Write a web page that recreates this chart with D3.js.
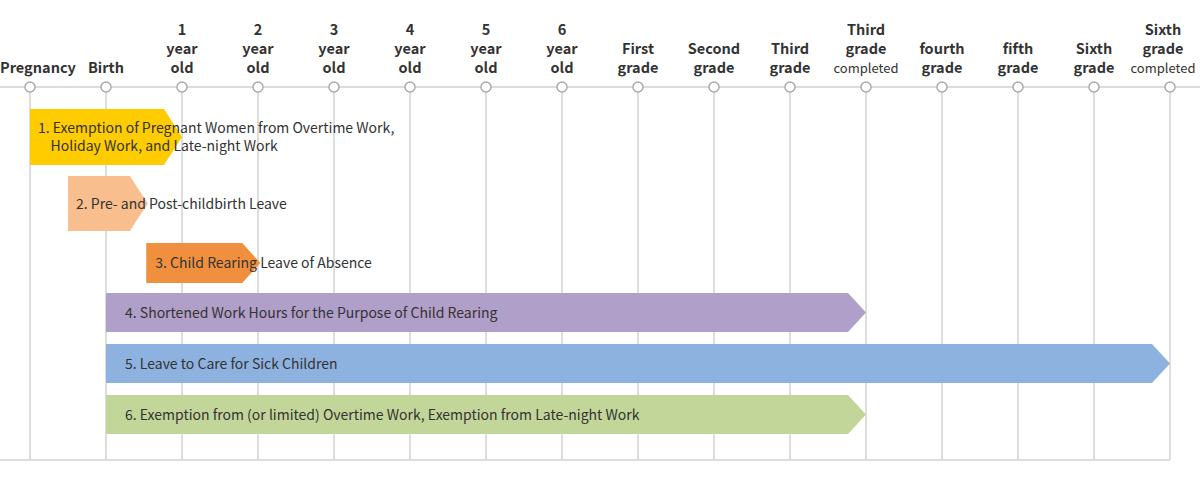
<!DOCTYPE html><html><head><meta charset="utf-8">
<script src="https://cdn.jsdelivr.net/npm/d3@7"></script>
<style>body{margin:0;background:#fff}text{font-family:"Noto Sans CJK JP","Noto Sans",sans-serif}</style></head><body>
<svg id="c" width="1200" height="494"></svg>
<script>
const stages=["Pregnancy","Birth","1","2","3","4","5","6","First","Second","Third","Third","fourth","fifth","Sixth","Sixth"];
const stageLines=[["Pregnancy"],["Birth"],["1","year","old"],["2","year","old"],["3","year","old"],["4","year","old"],["5","year","old"],["6","year","old"],["First","grade"],["Second","grade"],["Third","grade"],["Third","grade","completed"],["fourth","grade"],["fifth","grade"],["Sixth","grade"],["Sixth","grade","completed"]];
const barLabels=[["1. Exemption of Pregnant Women from Overtime Work,","    Holiday Work, and Late-night Work"],["2. Pre- and Post-childbirth Leave"],["3. Child Rearing Leave of Absence"],["4. Shortened Work Hours for the Purpose of Child Rearing"],["5. Leave to Care for Sick Children"],["6. Exemption from (or limited) Overtime Work, Exemption from Late-night Work"]];
const barStart=[0,0.5,1.53,1,1,1];
const barEnd=[2,1.55,3.03,11,15,11];
const barColors=["#FFCC00","#F9BE8E","#F0903E","#B09FC8","#8EB2E0","#C2D699"];
const barTop=[109,176,243,293,344,395], barBottom=[165,231,283,332,383,434];
const pad=[8,8,9,19,19,19];
const svg=d3.select("#c");
const x=d3.scaleLinear().domain([0,15]).range([30,1170]);
const idx=d3.range(stages.length);
svg.selectAll(".v").data(idx).join("line").attr("x1",d=>x(d)).attr("x2",d=>x(d)).attr("y1",87).attr("y2",460).attr("stroke","#ddd").attr("stroke-width",2);
svg.append("line").attr("x1",0).attr("x2",1200).attr("y1",87).attr("y2",87).attr("stroke","#ddd").attr("stroke-width",2);
svg.append("line").attr("x1",0).attr("x2",1170).attr("y1",460).attr("y2",460).attr("stroke","#ddd").attr("stroke-width",2);
svg.selectAll(".c").data(idx).join("circle").attr("cx",d=>x(d)).attr("cy",87).attr("r",5).attr("fill","#fff").attr("stroke","#aaa").attr("stroke-width",1.5);
const shift={0:8,15:-7};
idx.forEach(i=>{const L=stageLines[i];const n=L.length;
 L.forEach((t,j)=>{const small=t==="completed";
  svg.append("text").attr("x",x(i)+(shift[i]||0)).attr("y",73-(n-1-j)*19).attr("text-anchor","middle")
   .attr("font-size",small?13:14.5).attr("font-weight",small?400:700).attr("fill","#333").text(t);});});
const tip=18;
barColors.forEach((col,i)=>{const x0=x(barStart[i]),x1=x(barEnd[i]),t=barTop[i],b=barBottom[i],m=(t+b)/2;
 svg.append("path").attr("d",`M${x0},${t}L${x1-tip},${t}L${x1},${m}L${x1-tip},${b}L${x0},${b}Z`).attr("fill",col);
 const L=barLabels[i];
 L.forEach((s,j)=>svg.append("text").attr("x",x0+pad[i]).attr("y",m+5+(j-(L.length-1)/2)*18).attr("font-size",14).attr("fill","#333").attr("xml:space","preserve").text(s));});
</script></body></html>
